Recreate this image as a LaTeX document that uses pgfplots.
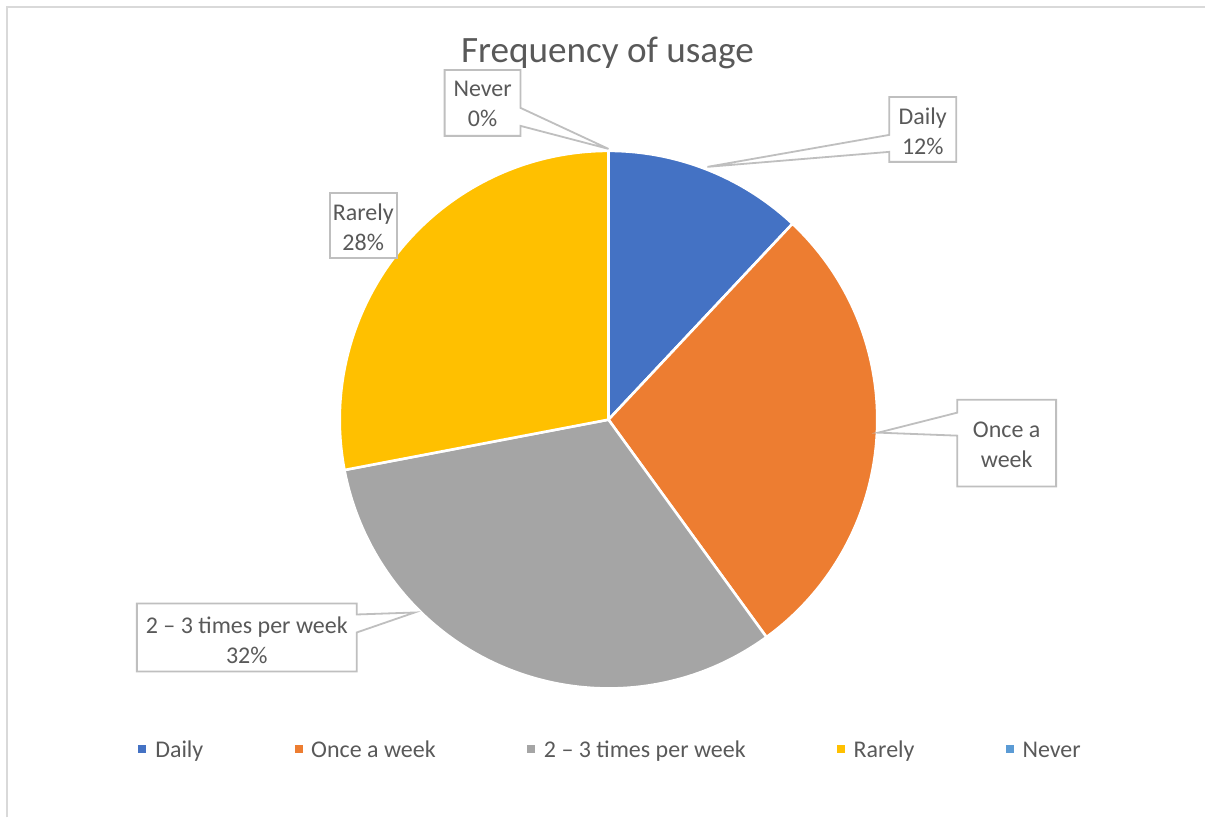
\documentclass[border=0pt]{standalone}
\usepackage{pgfplots}
\usepackage{pgfplotstable}
\pgfplotsset{compat=1.18}
\usepackage{fontspec}
\setmainfont{Carlito}

\definecolor{slice0}{HTML}{4472C4}
\definecolor{slice1}{HTML}{ED7D31}
\definecolor{slice2}{HTML}{A5A5A5}
\definecolor{slice3}{HTML}{FFC000}
\definecolor{slice4}{HTML}{5B9BD5}
\definecolor{txt}{HTML}{595959}
\definecolor{boxline}{HTML}{BFBFBF}
\definecolor{frame}{HTML}{D9D9D9}

% share of respondents per answer, in percent
\pgfplotstableread{
label value
Daily 12
Once 28
Two 32
Rarely 28
Never 0
}\usagedata

\begin{document}
\begin{tikzpicture}[
  callout/.style={draw=boxline, fill=white, line width=0.9pt, line join=miter},
  lbl/.style={text=txt, align=center, inner sep=0pt, font=\fontsize{12}{15}\selectfont},
  leg/.style={text=txt, anchor=base west, inner sep=0pt, font=\fontsize{12}{15}\selectfont}
]
% start and end angle of every slice, clockwise from the top
\pgfplotstablegetrowsof{\usagedata}
\pgfmathtruncatemacro{\nrows}{\pgfplotsretval-1}
\gdef\cumangle{90}
\foreach \i in {0,...,\nrows}{
  \pgfplotstablegetelem{\i}{value}\of{\usagedata}
  \pgfmathsetmacro{\endangle}{\cumangle-3.6*\pgfplotsretval}
  \expandafter\xdef\csname sliceStart\i\endcsname{\cumangle}
  \expandafter\xdef\csname sliceEnd\i\endcsname{\endangle}
  \xdef\cumangle{\endangle}
}
\begin{axis}[
  x=0.5pt, y=0.5pt, y dir=reverse,
  xmin=0, xmax=1206, ymin=0, ymax=818,
  scale only axis, hide axis, clip=false,
]
\path (axis cs:0,0) rectangle (axis cs:1206,818);
% chart frame
\draw[frame, line width=1pt] (axis cs:7,818) -- (axis cs:7,7) -- (axis cs:1206,7);

% title
\node[text=txt, anchor=base, inner sep=0pt, font=\fontsize{18.6}{22}\selectfont]
  at (axis cs:608,63) {Frequency of usage};

% pie slices
\pgfplotsinvokeforeach{0,...,4}{
  \fill[slice#1, draw=white, line width=1.3pt, line join=round]
    (axis cs:609,420) -- ++(\csname sliceStart#1\endcsname:134.5pt)
    arc[start angle=\csname sliceStart#1\endcsname,
        end angle=\csname sliceEnd#1\endcsname, radius=134.5pt] -- cycle;
}

% data label callouts
\draw[callout] (axis cs:445,70) -- (axis cs:521,70) -- (axis cs:521,108)
  -- (axis cs:609,149) -- (axis cs:521,126) -- (axis cs:521,136)
  -- (axis cs:445,136) -- cycle;
\node[lbl] at (axis cs:483,104) {Never\\0\%};

\draw[callout] (axis cs:890,97) -- (axis cs:957,97) -- (axis cs:957,162)
  -- (axis cs:890,162) -- (axis cs:890,152) -- (axis cs:708,167)
  -- (axis cs:890,135) -- cycle;
\node[lbl] at (axis cs:923.5,131) {Daily\\12\%};

\draw[callout] (axis cs:958,400) -- (axis cs:1057,400) -- (axis cs:1057,487)
  -- (axis cs:958,487) -- (axis cs:958,436) -- (axis cs:879,433)
  -- (axis cs:958,413) -- cycle;
\node[lbl] at (axis cs:1007.5,445) {Once a\\week};

\draw[callout] (axis cs:330,193) rectangle (axis cs:397,258);
\node[lbl] at (axis cs:363.5,227) {Rarely\\28\%};

\draw[callout] (axis cs:137,604) -- (axis cs:357,604) -- (axis cs:357,615)
  -- (axis cs:415,613) -- (axis cs:357,633) -- (axis cs:357,672)
  -- (axis cs:137,672) -- cycle;
\node[lbl] at (axis cs:247,641) {2 \textendash{} 3 times per week\\32\%};

% legend
\fill[slice0] (axis cs:138,746) rectangle (axis cs:146,754);
\node[leg] at (axis cs:155,758) {Daily};
\fill[slice1] (axis cs:295,746) rectangle (axis cs:303,754);
\node[leg] at (axis cs:311,758) {Once a week};
\fill[slice2] (axis cs:527,746) rectangle (axis cs:535,754);
\node[leg] at (axis cs:544,758) {2 \textendash{} 3 times per week};
\fill[slice3] (axis cs:838,746) rectangle (axis cs:846,754);
\node[leg] at (axis cs:854,758) {Rarely};
\fill[slice4] (axis cs:1007,746) rectangle (axis cs:1015,754);
\node[leg] at (axis cs:1023,758) {Never};
\end{axis}
\end{tikzpicture}
\end{document}
